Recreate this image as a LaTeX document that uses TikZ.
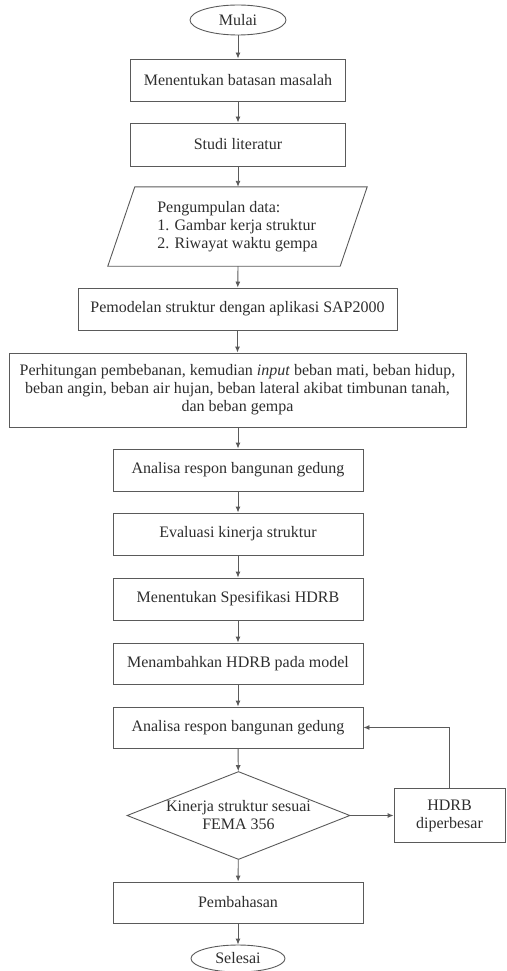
\documentclass[tikz,border=0pt]{standalone}
\usepackage{fontspec}
\setmainfont{Liberation Serif}
\usetikzlibrary{shapes.geometric,arrows.meta,calc}
\definecolor{linec}{HTML}{5A5A5A}
\definecolor{textc}{HTML}{2E2E2E}
\begin{document}
\begin{tikzpicture}[x=1pt,y=-1pt,
  font=\fontsize{16}{18}\selectfont,
  every node/.style={text=textc},
  box/.style={draw=linec,line width=0.9pt,rectangle,inner sep=0pt,align=center},
  term/.style={draw=linec,line width=0.9pt,ellipse,inner sep=0pt,minimum width=96pt,minimum height=30pt},
  arr/.style={draw=linec,line width=0.9pt,-{Latex[length=6pt,width=5pt]}}
]
\useasboundingbox (0,0) rectangle (506,971);
\node[term] (mulai) at (238,20) {Mulai};
\node[box,minimum width=215pt,minimum height=42pt] (b1) at (238,80) {Menentukan batasan masalah};
\node[box,minimum width=215pt,minimum height=43pt] (b2) at (238,144.5) {Studi literatur};
\node[inner sep=0pt,minimum width=232pt,minimum height=79pt,align=left] (para) at (237.5,226.5) {Pengumpulan data:\\1. Gambar kerja struktur\\2. Riwayat waktu gempa};
\draw[linec,line width=0.9pt] ($(para.north west)+(13.5,0)$) -- ($(para.north east)+(13.5,0)$) -- ($(para.south east)+(-13.5,0)$) -- ($(para.south west)+(-13.5,0)$) -- cycle;
\node[box,minimum width=319pt,minimum height=42pt] (b3) at (237.5,309) {Pemodelan struktur dengan aplikasi SAP2000};
\node[box,minimum width=457pt,minimum height=74pt] (b4) at (237.5,390) {Perhitungan pembebanan, kemudian \textit{input} beban mati, beban hidup,\\beban angin, beban air hujan, beban lateral akibat timbunan tanah,\\dan beban gempa};
\node[box,minimum width=250pt,minimum height=42pt] (b5) at (238,470) {Analisa respon bangunan gedung};
\node[box,minimum width=250pt,minimum height=42pt] (b6) at (238,534) {Evaluasi kinerja struktur};
\node[box,minimum width=250pt,minimum height=42pt] (b7) at (238,599) {Menentukan Spesifikasi HDRB};
\node[box,minimum width=250pt,minimum height=41pt] (b8) at (238,663.5) {Menambahkan HDRB pada model};
\node[box,minimum width=250pt,minimum height=41pt] (b9) at (238,727.5) {Analisa respon bangunan gedung};
\node[draw=linec,line width=0.9pt,diamond,aspect=2.53,inner sep=0pt,minimum width=223pt,minimum height=88pt,align=center] (dec) at (238.5,815.5) {Kinerja struktur sesuai\\FEMA 356};
\node[box,minimum width=111pt,minimum height=54pt] (hdrb) at (449.5,815.5) {HDRB\\diperbesar};
\node[box,minimum width=250pt,minimum height=41pt] (b10) at (238,902.5) {Pembahasan};
\node[term,minimum width=94pt,minimum height=27pt] (selesai) at (238,958.5) {Selesai};
\draw[arr] (mulai) -- (b1);
\draw[arr] (b1) -- (b2);
\draw[arr] (b2) -- (b2 |- para.north);
\draw[arr] (b2 |- para.south) -- (b3);
\draw[arr] (b3) -- (b4);
\draw[arr] (b4) -- (b4.south -| b5) -- (b5);
\draw[arr] (b5) -- (b6);
\draw[arr] (b6) -- (b7);
\draw[arr] (b7) -- (b8);
\draw[arr] (b8) -- (b9);
\draw[arr] (b9) -- (dec);
\draw[arr] (dec) -- (hdrb);
\draw[arr] (hdrb.north) |- (b9.east);
\draw[arr] (dec) -- (b10);
\draw[arr] (b10) -- (selesai);
\end{tikzpicture}
\end{document}
